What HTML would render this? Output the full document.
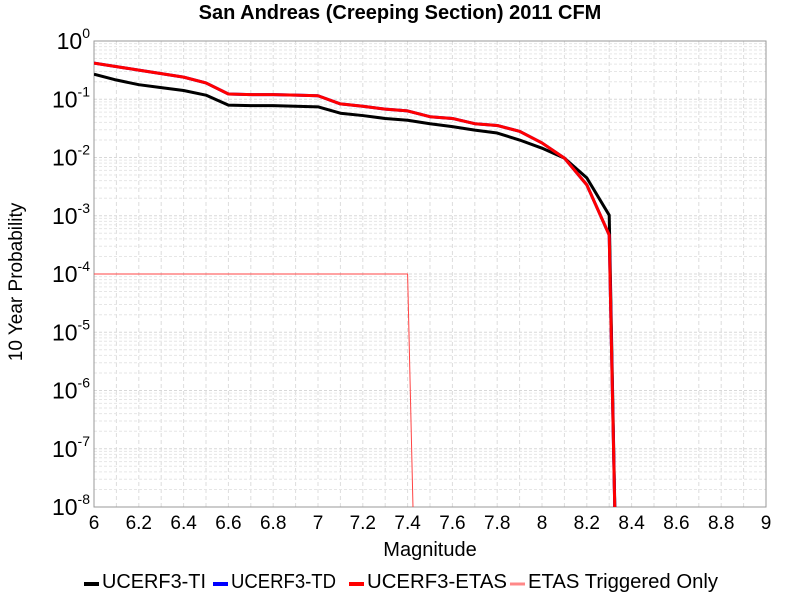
<!DOCTYPE html>
<html><head><meta charset="utf-8"><style>
body{margin:0;background:#fff;font-family:"Liberation Sans",sans-serif}
</style></head><body>
<svg id="chart" width="800" height="600" xmlns="http://www.w3.org/2000/svg" font-family="Liberation Sans, sans-serif">
<defs><clipPath id="clip"><rect x="94" y="41" width="672" height="466"/></clipPath></defs>
<text x="400" y="19" text-anchor="middle" font-size="20" font-weight="bold">San Andreas (Creeping Section) 2011 CFM</text>
<g id="grid"></g>
<rect x="94" y="41" width="672" height="466" fill="none" stroke="#999" stroke-width="1"/>
<g id="series" clip-path="url(#clip)"></g>
<g id="ticks"></g>
<text x="430" y="556" text-anchor="middle" font-size="20">Magnitude</text>
<text transform="translate(22,282) rotate(-90)" text-anchor="middle" font-size="19">10 Year Probability</text>
<g id="legend"></g>
</svg>
<script>
const mags=[6.0,6.1,6.2,6.3,6.4,6.5,6.6,6.7,6.8,6.9,7.0,7.1,7.2,7.3,7.4,7.5,7.6,7.7,7.8,7.9,8.0,8.1,8.2,8.3,8.33];
const tiLog=[-0.57,-0.67,-0.75,-0.80,-0.85,-0.93,-1.10,-1.11,-1.11,-1.12,-1.13,-1.24,-1.28,-1.33,-1.36,-1.42,-1.47,-1.53,-1.58,-1.70,-1.84,-2.01,-2.35,-2.99,-9];
const etasLog=[-0.38,-0.44,-0.50,-0.56,-0.62,-0.72,-0.91,-0.92,-0.92,-0.93,-0.94,-1.08,-1.12,-1.17,-1.20,-1.30,-1.33,-1.42,-1.45,-1.55,-1.75,-2.01,-2.47,-3.33,-9];
const trigMags=[6.0,7.4,7.43];
const trigLog=[-4.0,-4.0,-9];
const xTicks=[6,6.2,6.4,6.6,6.8,7,7.2,7.4,7.6,7.8,8,8.2,8.4,8.6,8.8,9];
const yExp=[0,-1,-2,-3,-4,-5,-6,-7,-8];
const NS="http://www.w3.org/2000/svg";
const X=m=>94+(m-6)*224, Y=l=>41-l*58.25;
function mk(t,a,p){const e=document.createElementNS(NS,t);for(const k in a)e.setAttribute(k,a[k]);p.appendChild(e);return e;}
const grid=document.getElementById('grid'),ticks=document.getElementById('ticks');
for(let m=6.1;m<9;m+=0.1){const g=mk('line',{x1:X(m),x2:X(m),y1:41,y2:507,stroke:'#ddd','stroke-dasharray':'4,3'},grid);

}
for(let d=0;d<8;d++)for(let k=1;k<10;k++){const y=Y(-d-1+Math.log10(k));const g=mk('line',{x1:94,x2:766,y1:y,y2:y,stroke:k==1?'#d8d8d8':'#e6e6e6','stroke-dasharray':'3,2'},grid);

}
xTicks.forEach(t=>{const e=mk('text',{x:X(t),y:529,'text-anchor':'middle','font-size':19},ticks);e.textContent=String(t);

});
yExp.forEach(p=>{const e=mk('text',{x:90,y:Y(p)+8,'text-anchor':'end','font-size':23},ticks);


const a=mk('tspan',{},e);a.textContent='10';const b=mk('tspan',{dy:-11,'font-size':14},e);b.textContent=String(p);});
const ser=document.getElementById('series');
function line(xs,ls,col,w,name){const pts=xs.map((m,i)=>X(m)+','+Y(ls[i])).join(' ');const e=mk('polyline',{points:pts,fill:'none',stroke:col,'stroke-width':w,'stroke-linejoin':'round'},ser);

}
line(trigMags,trigLog,'#f44',1,'etas-triggered-line');
line(mags,tiLog,'#000',3,'ucerf3-ti-line');
line(mags,etasLog,'#00f',3,'ucerf3-td-line');
line(mags,etasLog,'#f00',3,'ucerf3-etas-line');
const leg=document.getElementById('legend');
const items=[['UCERF3-TI','#000',3,84,104],['UCERF3-TD','#00f',3,213,105],['UCERF3-ETAS','#f00',3,349,140],['ETAS Triggered Only','#f88',2,510,190]];
items.forEach(it=>{const g=mk('g',{},leg);


mk('line',{x1:it[3],x2:it[3]+15,y1:584,y2:584,stroke:it[1],'stroke-width':it[2]+1},g);
const t=mk('text',{x:it[3]+18,y:588,'font-size':20,textLength:it[4],lengthAdjust:'spacingAndGlyphs'},g);t.textContent=it[0];});
</script>
</body></html>
